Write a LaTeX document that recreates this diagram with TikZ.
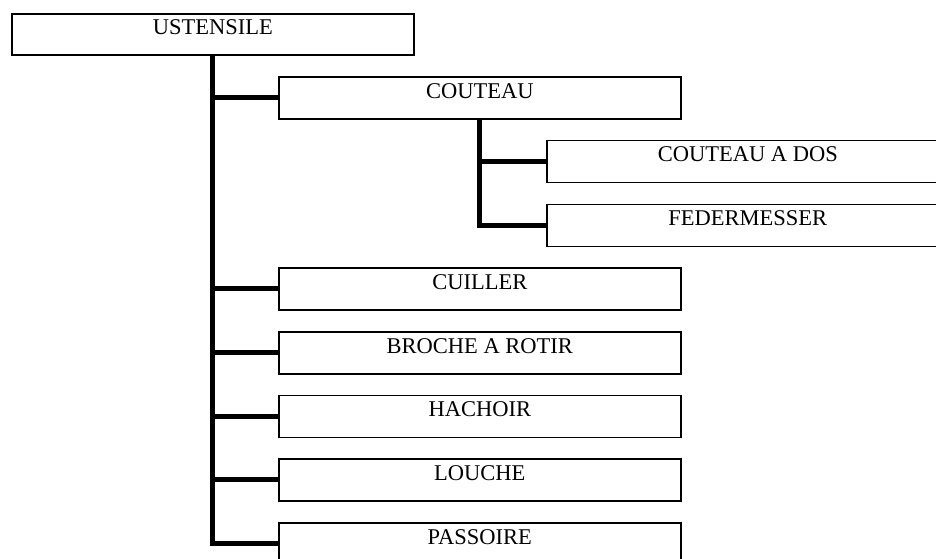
\documentclass[tikz,border=0pt]{standalone}
\usepackage{fontspec}
\setmainfont{Liberation Serif}
\begin{document}
\begin{tikzpicture}[x=1pt,y=-1pt,
  box/.style={draw=black,line width=1.6pt,minimum width=402pt,minimum height=42pt,inner sep=0pt,anchor=north west},
  lbl/.style={anchor=base,inner sep=0pt,font=\fontsize{22.5}{27}\selectfont},
  conn/.style={line width=5pt}]
\useasboundingbox (0,0) rectangle (936,558);
\fill[white] (0,0) rectangle (936,558);
% boxes
\node[box,minimum height=41pt] (u) at (11,13) {};
\node[box] (cou) at (278,76) {};
\node[box] (cad) at (546,139.5) {};
\node[box] (fed) at (546,203.5) {};
\node[box] (cui) at (278,267) {};
\node[box] (bro) at (278,331) {};
\node[box] (hac) at (278,394.5) {};
\node[box] (lou) at (278,458) {};
\node[box] (pas) at (278,522) {};
% labels
\node[lbl] (tu) at ([yshift=-21pt]u.north) {USTENSILE};
\node[lbl] (tcou) at ([yshift=-22pt]cou.north) {COUTEAU};
\node[lbl] (tcad) at ([yshift=-22pt]cad.north) {COUTEAU A DOS};
\node[lbl] (tfed) at ([yshift=-22pt]fed.north) {FEDERMESSER};
\node[lbl] (tcui) at ([yshift=-22pt]cui.north) {CUILLER};
\node[lbl] (tbro) at ([yshift=-22pt]bro.north) {BROCHE A ROTIR};
\node[lbl] (thac) at ([yshift=-22pt]hac.north) {HACHOIR};
\node[lbl] (tlou) at ([yshift=-22pt]lou.north) {LOUCHE};
\node[lbl] (tpas) at ([yshift=-22pt]pas.north) {PASSOIRE};
% connectors
\coordinate (tk) at (212.5,0);
\coordinate (sk) at (479.5,0);
\draw[conn] (u.south -| tk) |- (pas.west);
\foreach \n in {cou,cui,bro,hac,lou}{\draw[conn] (\n.west -| tk) -- (\n.west);}
\draw[conn] (cou.south -| sk) |- (fed.west);
\draw[conn] (cad.west -| sk) -- (cad.west);
\end{tikzpicture}
\end{document}
